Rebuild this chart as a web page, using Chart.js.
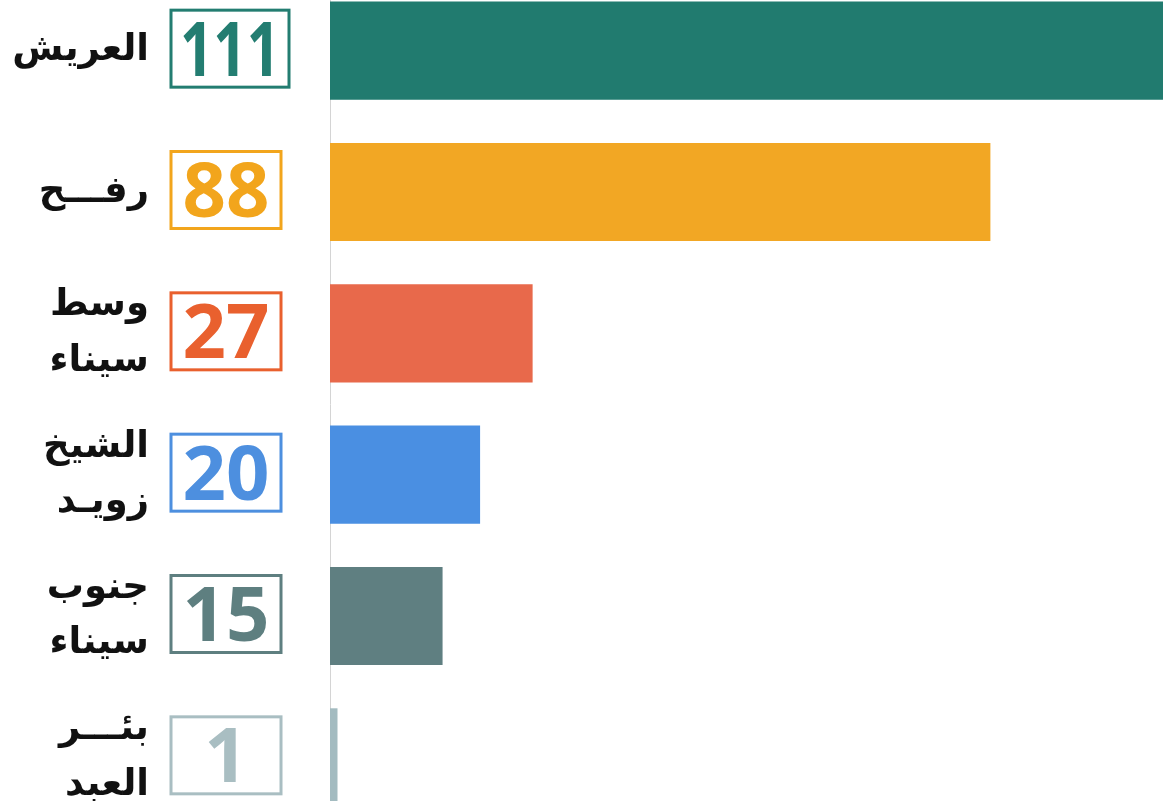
<!DOCTYPE html>
<html>
<head>
<meta charset="utf-8">
<script src="https://cdn.jsdelivr.net/npm/chart.js@4.4.1/dist/chart.umd.min.js"></script>
<style>
  html, body { margin: 0; padding: 0; background: #ffffff; overflow: hidden; }
  #clip { position: absolute; left: 0; top: 0; width: 1167px; height: 801px; overflow: hidden; }
  #c { position: absolute; left: 0; top: -20px; width: 1167px; height: 848px; }
</style>
</head>
<body>
<div id="clip"><canvas id="c" width="1167" height="848"></canvas></div>
<script>
// Data
const categories = ['العريش', 'رفـــح', ['وسط', 'سيناء'], ['الشيخ', 'زويـد'], ['جنوب', 'سيناء'], ['بئـــر', 'العبد']];
const values = [111, 88, 27, 20, 15, 1];
const barColors = ['#217b6f', '#f2a724', '#e8694b', '#4a8fe2', '#5f7f81', '#a3bbc0'];
const boxColors = ['#237d71', '#f2a51c', '#e9602e', '#4d8fdf', '#5e7f80', '#a9bec2'];

const boxPlugin = {
  id: 'valueBoxes',
  afterDraw(chart) {
    const ctx = chart.ctx;
    const yScale = chart.scales.y;
    const data = chart.data.datasets[0].data;
    const size = 76;
    ctx.save();
    data.forEach((v, i) => {
      const yc = yScale.getPixelForValue(i);
      const txt = String(v);
      const w = txt.length >= 3 ? 118 : 110;
      const h = 77;
      const x0 = 171;
      ctx.strokeStyle = boxColors[i];
      ctx.lineWidth = 3;
      ctx.strokeRect(x0, yc - h / 2 - 2, w, h);
      ctx.fillStyle = boxColors[i];
      ctx.font = 'bold ' + size + 'px "Open Sans", "DejaVu Sans", sans-serif';
      ctx.textAlign = 'center';
      ctx.textBaseline = 'alphabetic';
      ctx.fillText(txt, x0 + w / 2, yc - 2 + size * 0.357, w - 18);
    });
    ctx.restore();
  }
};

new Chart(document.getElementById('c'), {
  type: 'bar',
  data: {
    labels: categories,
    datasets: [{
      data: values,
      backgroundColor: barColors,
      borderWidth: 0,
      categoryPercentage: 1.0,
      barPercentage: 0.694
    }]
  },
  options: {
    indexAxis: 'y',
    responsive: false,
    maintainAspectRatio: false,
    animation: false,
    devicePixelRatio: 1,
    layout: { padding: { left: 0, right: 4, top: 0, bottom: 0 } },
    plugins: { legend: { display: false }, tooltip: { enabled: false } },
    scales: {
      x: {
        display: false,
        min: 0,
        max: 111
      },
      y: {
        grid: { display: false, drawTicks: false, tickLength: 0 },
        border: { display: true, dash: [3, 4], color: '#d4d4d4', width: 1 },
        ticks: {
          padding: 181,
          color: '#111111',
          font: { family: '"DejaVu Sans", sans-serif', size: 37, weight: 'bold', lineHeight: 1.5 }
        },
        afterFit(scale) {
          scale.width = 330;
          scale.paddingTop = 0;
          scale.paddingBottom = 0;
        }
      }
    }
  },
  plugins: [boxPlugin]
});
</script>
</body>
</html>
